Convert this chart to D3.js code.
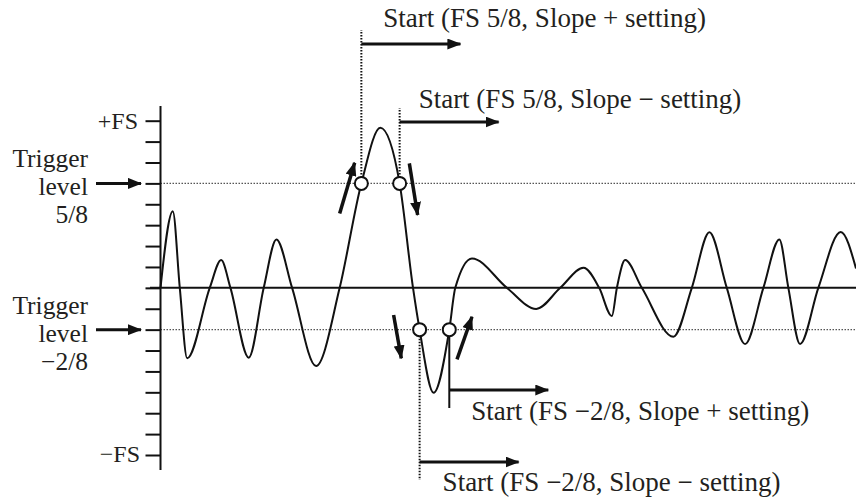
<!DOCTYPE html>
<html>
<head>
<meta charset="utf-8">
<script src="https://cdn.jsdelivr.net/npm/d3@7"></script>
<style>
  html, body { margin: 0; padding: 0; background: #fff; }
  svg { display: block; }
  text { font-family: "Liberation Serif", "Times New Roman", serif; fill: #231f20; }
</style>
</head>
<body>
<svg id="chart" width="856" height="501"></svg>
<script>
// ---- data (time in arbitrary units, value in eighths of full scale) ----
const waveT = [0, 12.3, 19.3, 26.7, 49.3, 60.7, 70, 88.3, 103.3, 116, 131.7, 155.7, 179.3, 201, 220, 239.3, 252.7, 259.3, 273.3, 289, 295, 311.7, 346.7, 376, 400, 423.3, 439, 451.7, 456.7, 465, 481.7, 513.3, 531.7, 549.3, 566.7, 585, 603.3, 619.3, 628.3, 640, 658.3, 680.7, 696];
const waveV = [0, 3.67, 0, -3.37, 0, 1.33, 0, -3.34, 0, 2.32, 0, -3.74, 0, 5, 7.66, 5, 0, -2, -5.02, -2, 0, 1.41, 0, -1.01, 0, 0.96, 0, -1.35, 0, 1.33, 0, -2.34, 0, 2.66, 0, -2.69, 0, 2.32, 0, -2.69, 0, 2.67, 0.93];
const tickValues = [-8, -7, -6, -5, -4, -3, -2, -1, 0, 1, 2, 3, 4, 5, 6, 7, 8];
const triggerLevels = [5, -2];
const triggerLabels = [["Trigger", "level", "5/8"], ["Trigger", "level", "\u22122/8"]];
const triggerT = [201, 239.3, 259.3, 289];
const triggerV = [5, 5, -2, -2];
const startLabels = [
  "Start (FS 5/8, Slope + setting)",
  "Start (FS 5/8, Slope \u2212 setting)",
  "Start (FS \u22122/8, Slope \u2212 setting)",
  "Start (FS \u22122/8, Slope + setting)"
];

const svg = d3.select("#chart");
const x = d3.scaleLinear().domain([0, 696]).range([160.5, 856]);
const y = d3.scaleLinear().domain([-8, 8]).range([455, 120.7]);

const ink = "#111";

// arrowhead markers
const defs = svg.append("defs");
defs.append("marker").attr("id", "ah").attr("viewBox", "0 0 14 11")
  .attr("refX", 13).attr("refY", 5.5).attr("markerWidth", 14).attr("markerHeight", 11)
  .attr("markerUnits", "userSpaceOnUse").attr("orient", "auto")
  .append("path").attr("d", "M0,0 L14,5.5 L0,11 Z").attr("fill", ink);

// trigger dotted lines
svg.append("g").selectAll("line").data(triggerLevels).join("line")
  .attr("x1", x(0)).attr("x2", 856)
  .attr("y1", d => y(d)).attr("y2", d => y(d))
  .attr("stroke", "#555").attr("stroke-width", 1.2).attr("stroke-dasharray", "1.5,1.5");

// zero line
svg.append("line").attr("x1", 150).attr("x2", 856).attr("y1", y(0)).attr("y2", y(0))
  .attr("stroke", ink).attr("stroke-width", 2);

// axis
const axis = d3.axisLeft(y).tickValues(tickValues).tickSize(15).tickFormat("").tickSizeOuter(0);
const ag = svg.append("g").attr("transform", `translate(${x(0)},0)`).call(axis);
ag.select(".domain").remove();
ag.selectAll(".tick line").attr("stroke", ink).attr("stroke-width", 2);
svg.append("line").attr("x1", x(0)).attr("x2", x(0)).attr("y1", 106).attr("y2", 470)
  .attr("stroke", ink).attr("stroke-width", 2);

// FS labels
svg.append("text").attr("x", 138).attr("y", y(8)).attr("dy", "0.33em")
  .attr("text-anchor", "end").attr("font-size", 24).text("+FS");
svg.append("text").attr("x", 140).attr("y", y(-8)).attr("dy", "0.3em")
  .attr("text-anchor", "end").attr("font-size", 24).text("\u2212FS");

// trigger labels + arrows
triggerLevels.forEach((lv, i) => {
  const cy = y(lv);
  const t = svg.append("text").attr("text-anchor", "end").attr("font-size", 25.5);
  triggerLabels[i].forEach((s, k) => {
    t.append("tspan").attr("x", 88).attr("y", cy - 16 + k * 28).text(s);
  });
  svg.append("line").attr("x1", 96).attr("x2", 141).attr("y1", cy).attr("y2", cy)
    .attr("stroke", ink).attr("stroke-width", 3).attr("marker-end", "url(#ah)");
});

// waveform
const pts = waveT.map((t, i) => [t, waveV[i]]);
const line = d3.line().x(d => x(d[0])).y(d => y(d[1])).curve(d3.curveMonotoneX);
svg.append("path").attr("d", line(pts)).attr("fill", "none")
  .attr("stroke", ink).attr("stroke-width", 2);

// start markers
const starts = [
  {i: 0, vy: 30, ay: 44, dotted: true, tx: 22, ty: 27, label: startLabels[0]},
  {i: 1, vy: 108, ay: 122, dotted: true, tx: 19, ty: 108, label: startLabels[1]},
  {i: 2, vy: 480, ay: 462, dotted: true, tx: 23, ty: 491, label: startLabels[2]},
  {i: 3, vy: 408, ay: 390, dotted: false, tx: 22, ty: 420, label: startLabels[3]}
];
starts.forEach(s => {
  const cx = x(triggerT[s.i]), cy = y(triggerV[s.i]);
  svg.append("line").attr("x1", cx).attr("x2", cx).attr("y1", cy).attr("y2", s.vy)
    .attr("stroke", ink).attr("stroke-width", 2)
    .attr("stroke-dasharray", s.dotted ? "1.5,1.5" : null);
  svg.append("line").attr("x1", cx).attr("x2", cx + 99).attr("y1", s.ay).attr("y2", s.ay)
    .attr("stroke", ink).attr("stroke-width", 3).attr("marker-end", "url(#ah)");
  svg.append("text").attr("x", cx + s.tx).attr("y", s.ty).attr("font-size", 27).text(s.label);
});

// slope arrows (pixel offsets from trigger points)
const slopeArrows = [
  [-21.7, 30, -6.7, -20.6],
  [9.7, -20, 18, 31.7],
  [-26, -14.6, -18.3, 28.7],
  [7.7, 29.7, 22.7, -12.9]
];
slopeArrows.forEach((a, i) => {
  const cx = x(triggerT[i]), cy = y(triggerV[i]);
  svg.append("line").attr("x1", cx + a[0]).attr("y1", cy + a[1])
    .attr("x2", cx + a[2]).attr("y2", cy + a[3])
    .attr("stroke", ink).attr("stroke-width", 3.5).attr("marker-end", "url(#ah)");
});

// trigger circles
svg.append("g").selectAll("circle").data(triggerT).join("circle")
  .attr("cx", d => x(d)).attr("cy", (d, i) => y(triggerV[i])).attr("r", 6.5)
  .attr("fill", "#fff").attr("stroke", ink).attr("stroke-width", 2);
</script>
</body>
</html>
